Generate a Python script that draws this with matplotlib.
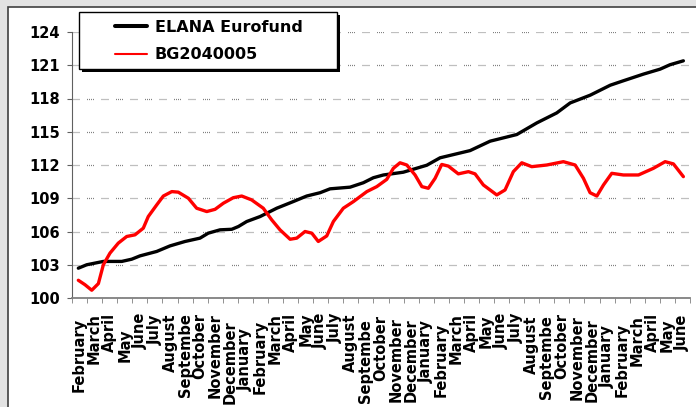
import numpy as np
import matplotlib.pyplot as plt
from matplotlib.patches import Rectangle
from matplotlib.transforms import ScaledTranslation

# month labels (the source cuts them to 8 characters)
months = ["February", "March", "April", "May", "June", "July", "August", "Septembe",
          "October", "November", "December", "January", "February", "March", "April",
          "May", "June", "July", "August", "Septembe", "October", "November", "December",
          "January", "February", "March", "April", "May", "June", "July", "August",
          "Septembe", "October", "November", "December", "January", "February", "March",
          "April", "May", "June"]

# ELANA Eurofund: time in months since start of first February, index value
ef_t = [0.42, 0.98, 2.08, 3.30, 3.96, 4.51, 5.62, 6.50, 7.50, 8.49, 9.04, 9.82, 10.60,
        11.04, 11.59, 12.48, 13.58, 14.68, 15.57, 16.46, 17.12, 18.45, 19.33, 19.99,
        20.66, 21.98, 23.54, 24.42, 26.41, 27.74, 29.51, 30.84, 32.16, 33.05, 34.38,
        35.71, 36.58, 37.91, 39.02, 39.68, 40.56]
ef_v = [102.69, 103.0, 103.3, 103.3, 103.5, 103.8, 104.2, 104.7, 105.1, 105.4, 105.85,
        106.15, 106.2, 106.45, 106.9, 107.35, 108.1, 108.7, 109.2, 109.5, 109.85, 110.0,
        110.4, 110.85, 111.1, 111.35, 111.98, 112.65, 113.3, 114.15, 114.75, 115.8,
        116.7, 117.6, 118.3, 119.2, 119.6, 120.2, 120.65, 121.05, 121.4]

# BG2040005
bg_t = [0.42, 0.86, 1.31, 1.75, 2.08, 2.52, 3.07, 3.63, 4.18, 4.73, 5.06, 5.62, 6.06,
        6.62, 7.05, 7.72, 8.27, 8.94, 9.49, 10.04, 10.70, 11.26, 11.92, 12.69, 13.25,
        13.80, 14.47, 14.91, 15.46, 15.91, 16.34, 16.90, 17.34, 18.00, 18.67, 19.56,
        20.22, 20.88, 21.32, 21.76, 22.21, 22.76, 23.21, 23.64, 24.09, 24.53, 24.97,
        25.63, 26.30, 26.74, 27.29, 28.18, 28.73, 29.28, 29.84, 30.50, 31.50, 32.60,
        33.38, 33.93, 34.37, 34.82, 35.26, 35.81, 36.58, 37.58, 38.57, 39.35, 39.90,
        40.56]
bg_v = [101.6, 101.2, 100.7, 101.3, 103.0, 104.05, 104.95, 105.55, 105.7, 106.3, 107.35,
        108.4, 109.2, 109.6, 109.55, 109.0, 108.1, 107.8, 108.0, 108.55, 109.05, 109.2,
        108.85, 108.1, 107.05, 106.15, 105.3, 105.4, 106.0, 105.85, 105.1, 105.6, 106.9,
        108.1, 108.7, 109.6, 110.05, 110.7, 111.7, 112.2, 112.0, 111.1, 110.05, 109.9,
        110.8, 112.05, 111.9, 111.2, 111.4, 111.2, 110.2, 109.3, 109.75, 111.4, 112.2,
        111.85, 112.0, 112.3, 112.0, 110.8, 109.5, 109.2, 110.2, 111.25, 111.1, 111.1,
        111.7, 112.3, 112.1, 110.95]

y_ticks = list(range(100, 125, 3))

# extra drop (px) of each month label, as laid out in the original
label_drop = [5, 0, 0, 15, 0, 2, 0, 0, 0, 0, 7, 15, 7, 0, 0, 0, 0, 0, 0, 6, 2, 4, 5, 7,
              10, 0, 0, 2, 0, 0, 2, 2, 0, 2, 5, 12, 10, 2, 0, 5, 2]

W, H = 696, 407
fig = plt.figure(figsize=(W / 100, H / 100), dpi=100, facecolor="#e3e3e3")

# white chart panel
fig.add_artist(Rectangle((8 / W, -0.05), 700 / W, 1.05 - 7 / H, transform=fig.transFigure,
                         facecolor="white", edgecolor="#404040", lw=1.2, zorder=-1))

ax = fig.add_axes([72 / W, (H - 298) / H, 618 / W, 266 / H])
ax.set_facecolor("white")

l1, = ax.plot(ef_t, ef_v, color="black", lw=2.4, solid_joinstyle="round",
              solid_capstyle="round", zorder=3)
l2, = ax.plot(bg_t, bg_v, color="#ff0000", lw=2.4, solid_joinstyle="round",
              solid_capstyle="round", zorder=3)

ax.set_xlim(0, len(months))
ax.set_ylim(100, 124)

for s in ["top", "right"]:
    ax.spines[s].set_visible(False)
ax.spines["left"].set_color("#606060")
ax.spines["bottom"].set_color("#808080")
ax.spines["bottom"].set_linewidth(1.3)

ax.set_yticks(y_ticks)
ax.set_yticklabels([str(v) for v in y_ticks], fontsize=10.5, fontweight="bold")
ax.tick_params(axis="y", length=3.6, pad=5, color="#606060")
ax.yaxis.grid(True, color="#808080", lw=0.9,
              linestyle=(0, (0.8, 0.8, 0.8, 0.8, 0.8, 0.8, 0.8, 6)))

ax.set_xticks(np.arange(len(months)) + 0.5)
ax.set_xticks(np.arange(len(months) + 1), minor=True)
ax.set_xticklabels(months, rotation=90, fontsize=10.5, fontweight="bold")
ax.tick_params(axis="x", which="major", length=0, pad=10.8)
ax.tick_params(axis="x", which="minor", length=3.6, color="#808080")

for lbl, d in zip(ax.get_xticklabels(), label_drop):
    lbl.set_verticalalignment("top")
    lbl.set_transform(lbl.get_transform() + ScaledTranslation(0, -d / 100, fig.dpi_scale_trans))

# legend box with hard shadow
fig.add_artist(Rectangle((82 / W, 1 - 72 / H), 258 / W, 57 / H, transform=fig.transFigure,
                         facecolor="black", edgecolor="none", zorder=3))
fig.add_artist(Rectangle((79 / W, 1 - 69 / H), 258 / W, 57 / H, transform=fig.transFigure,
                         facecolor="white", edgecolor="black", lw=1, zorder=3.1))
leg = fig.legend([l1, l2], ["ELANA Eurofund", "BG2040005"], loc="upper left",
                 bbox_to_anchor=(115 / W, 1 - 19.5 / H), frameon=False, borderpad=0,
                 borderaxespad=0, handlelength=2.0, handletextpad=0.5, labelspacing=0.8,
                 prop={"weight": "bold", "size": 11.5})
leg.set_zorder(4)
leg.get_lines()[0].set_linewidth(2.9)
leg.get_lines()[1].set_linewidth(1.5)

fig.savefig("out.png", dpi=100, facecolor=fig.get_facecolor())
